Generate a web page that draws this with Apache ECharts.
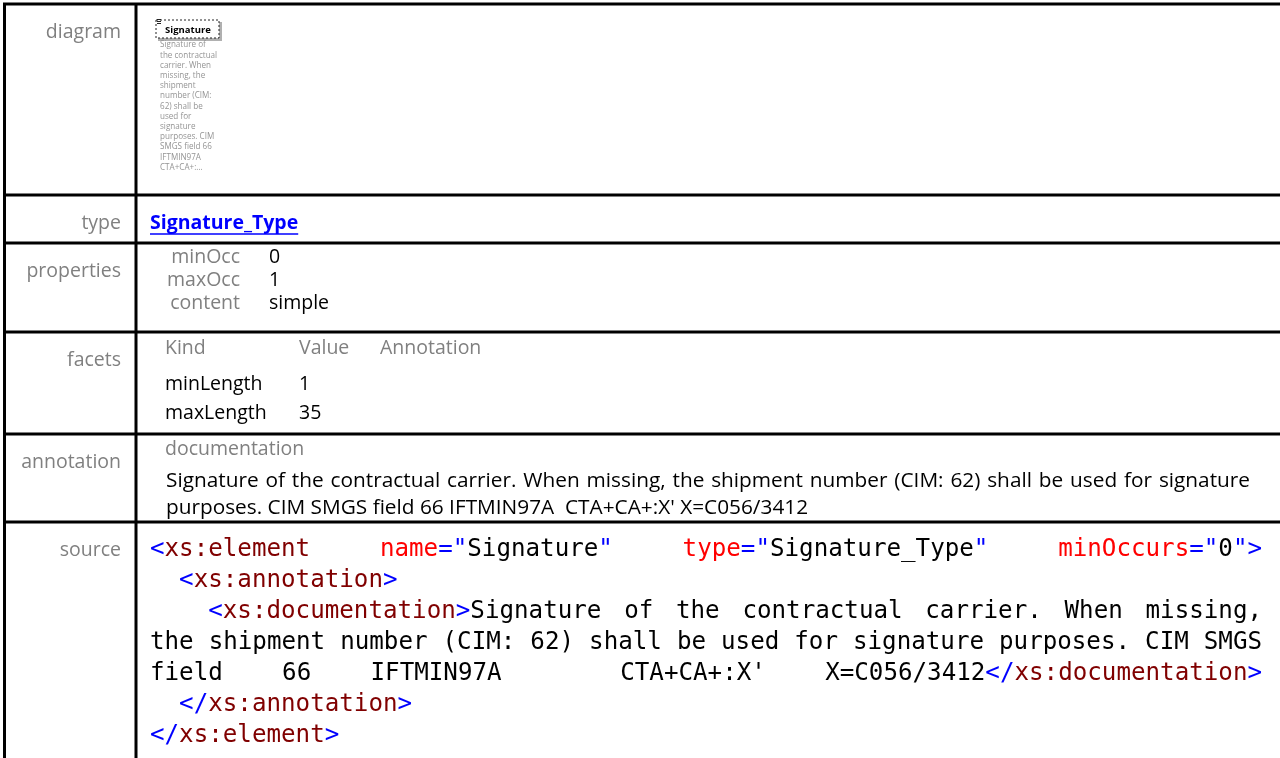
<!DOCTYPE html>
<html><head><meta charset="utf-8">
<script src="https://cdn.jsdelivr.net/npm/echarts@6/dist/echarts.min.js"></script>
<style>html,body{margin:0;padding:0;background:#fff;overflow:hidden}#c{width:1280px;height:758px}</style>
</head><body><div id="c"></div>
<script>
// ---------- content ----------
const rowLabels = ['diagram', 'type', 'properties', 'facets', 'annotation', 'source'];
const diagramName = 'Signature';
const diagramDesc = ['Signature of', 'the contractual', 'carrier. When', 'missing, the', 'shipment',
  'number (CIM:', '62) shall be', 'used for', 'signature', 'purposes. CIM', 'SMGS field 66', 'IFTMIN97A', 'CTA+CA+:...'];
const typeName = 'Signature_Type';
const propKeys = ['minOcc', 'maxOcc', 'content'];
const propValues = ['0', '1', 'simple'];
const facetHeader = ['Kind', 'Value', 'Annotation'];
const facetKinds = ['minLength', 'maxLength'];
const facetValues = ['1', '35'];
const annoHeader = 'documentation';
const annoLines = ['Signature of the contractual carrier. When missing, the shipment number (CIM: 62) shall be used for signature',
  "purposes. CIM SMGS field 66 IFTMIN97A  CTA+CA+:X' X=C056/3412"];
// source: [tokenType, text]; b=bracket, e=element, a=attr name, v=value
const sourceLines = [
  { indent: 0, justify: true, segs: [['b','<'],['e','xs:element'],['v',' '],['a','name'],['b','="'],['v','Signature'],['b','"'],['v',' '],['a','type'],['b','="'],['v','Signature_Type'],['b','"'],['v',' '],['a','minOccurs'],['b','="'],['v','0'],['b','">']] },
  { indent: 2, justify: false, segs: [['b','<'],['e','xs:annotation'],['b','>']] },
  { indent: 4, justify: true, segs: [['b','<'],['e','xs:documentation'],['b','>'],['v','Signature of the contractual carrier. When missing,']] },
  { indent: 0, justify: true, segs: [['v','the shipment number (CIM: 62) shall be used for signature purposes. CIM SMGS']] },
  { indent: 0, justify: true, segs: [['v',"field 66 IFTMIN97A  CTA+CA+:X' X=C056/3412"],['b','</'],['e','xs:documentation'],['b','>']] },
  { indent: 2, justify: false, segs: [['b','</'],['e','xs:annotation'],['b','>']] },
  { indent: 0, justify: false, segs: [['b','</'],['e','xs:element'],['b','>']] }
];

// ---------- layout & style ----------
const tokenColor = { b: '#0000ff', e: '#800000', a: '#ff0000', v: '#000000' };
const SANS = '"Open Sans"';
const MONO = '"DejaVu Sans Mono"';
const FS = 19.5, AFS = 20.8, MFS = 24.2;
const sansFont = (s, w) => (w || 'normal') + ' ' + s + 'px ' + SANS;
const monoFont = MFS + 'px ' + MONO;
const rowTops = [4, 195, 243, 332, 434, 522];
const labelRight = 121, colX = 136, contentX = 150;
const gray = '#808080';

const cv = document.createElement('canvas').getContext('2d');
function tw(s, font) { cv.font = font; return cv.measureText(s).width; }

const els = [];
function txt(x, y, text, font, fill, align) {
  els.push({ type: 'text', x: x, y: y, silent: true,
    style: { text: text, font: font, fill: fill, align: align || 'left', verticalAlign: 'middle',
             textAlign: align || 'left', textVerticalAlign: 'middle' } });
}
function ln(x1, y1, x2, y2, w, c) {
  els.push({ type: 'line', silent: true, shape: { x1: x1, y1: y1, x2: x2, y2: y2 },
    style: { stroke: c || '#000', lineWidth: w } });
}

// grid lines
rowTops.forEach(y => ln(3, y, 1280, y, 3));
ln(4.5, 3, 4.5, 758, 3);
ln(colX, 3, colX, 758, 3);

// row labels
rowLabels.forEach((l, i) => txt(labelRight, rowTops[i] + 28, l, sansFont(FS), gray, 'right'));

// diagram
els.push({ type: 'rect', silent: true, shape: { x: 158, y: 22, width: 64, height: 19 }, style: { fill: '#b0b0b0' } });
els.push({ type: 'rect', silent: true, shape: { x: 156, y: 20, width: 63, height: 18 },
  style: { fill: '#fff', stroke: '#222', lineWidth: 1, lineDash: [2, 2] } });
[19, 21, 23].forEach(y => ln(157, y + 0.5, 161, y + 0.5, 1, '#222'));
txt(188, 30, diagramName, sansFont(9.5, 'bold'), '#000', 'center');
diagramDesc.forEach((l, i) => txt(160, 45 + i * 10.2, l, sansFont(8.1), '#949494'));

// type
const tyY = rowTops[1] + 28;
txt(contentX, tyY, typeName, sansFont(FS, 'bold'), '#0000ff');
ln(contentX, tyY + 11, contentX + tw(typeName, sansFont(FS, 'bold')), tyY + 11, 1.5, '#0000ff');

// properties
propKeys.forEach((k, i) => {
  const y = rowTops[2] + 14 + i * 23;
  txt(240, y, k, sansFont(FS), gray, 'right');
  txt(269, y, propValues[i], sansFont(FS), '#000');
});

// facets
const fx = [165, 299, 380];
facetHeader.forEach((h, i) => txt(fx[i], rowTops[3] + 16, h, sansFont(FS), gray));
facetKinds.forEach((k, i) => {
  const y = rowTops[3] + 52 + i * 29;
  txt(fx[0], y, k, sansFont(FS), '#000');
  txt(fx[1], y, facetValues[i], sansFont(FS), '#000');
});

// annotation
txt(165, rowTops[4] + 15, annoHeader, sansFont(FS), gray);
(function () {
  const f = sansFont(AFS);
  const words = annoLines[0].split(' ');
  const total = words.reduce((s, w) => s + tw(w, f), 0);
  const gap = (1250 - 166 - total) / (words.length - 1);
  let x = 166;
  words.forEach(w => { txt(x, rowTops[4] + 47, w, f, '#000'); x += tw(w, f) + gap; });
  txt(166, rowTops[4] + 74, annoLines[1], f, '#000');
})();

// source
const cw = tw('M', monoFont);
sourceLines.forEach((line, li) => {
  const y = rowTops[5] + 28 + li * 31;
  const words = [[]];
  line.segs.forEach(([t, s]) => {
    const parts = s.split(' ');
    parts.forEach((p, pi) => {
      if (pi > 0) words.push([]);
      if (p.length) words[words.length - 1].push([t, p]);
    });
  });
  const wlen = w => w.reduce((s, p) => s + p[1].length, 0) * cw;
  const startX = contentX + line.indent * cw;
  const total = words.reduce((s, w) => s + wlen(w), 0);
  const gap = line.justify && words.length > 1 ? (1262 - startX - total) / (words.length - 1) : cw;
  let x = startX;
  words.forEach(w => {
    w.forEach(([t, p]) => { txt(x, y, p, monoFont, tokenColor[t]); x += p.length * cw; });
    x += gap;
  });
});

const chart = echarts.init(document.getElementById('c'), null, { renderer: 'canvas' });
chart.setOption({ backgroundColor: '#fff', animation: false, graphic: { elements: els } });
</script></body></html>
